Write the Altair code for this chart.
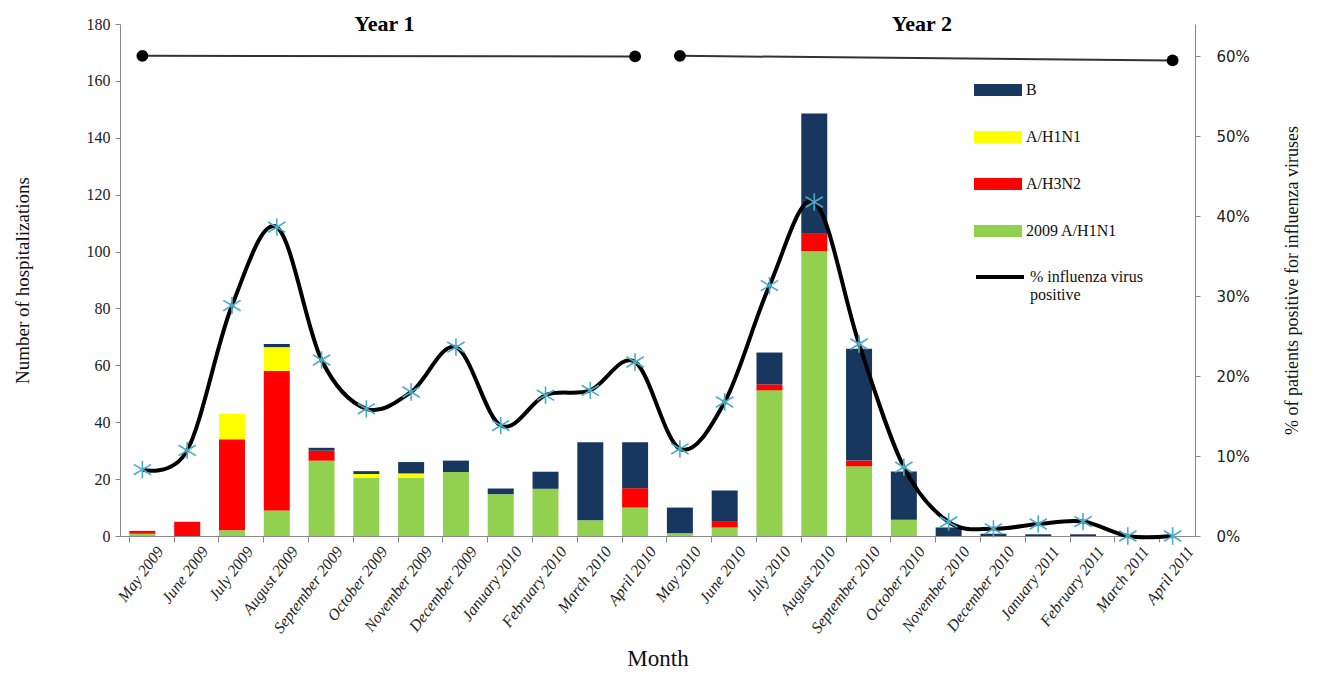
import altair as alt
import pandas as pd

months = ["May 2009", "June 2009", "July 2009", "August 2009", "September 2009",
          "October 2009", "November 2009", "December 2009", "January 2010",
          "February 2010", "March 2010", "April 2010", "May 2010", "June 2010",
          "July 2010", "August 2010", "September 2010", "October 2010",
          "November 2010", "December 2010", "January 2011", "February 2011",
          "March 2011", "April 2011"]

h1n1_2009 = [0.8, 0, 2, 9, 26.5, 20.5, 20.5, 22.5, 14.7, 16.6, 5.5, 10,
             1, 3, 51.2, 100.2, 24.5, 5.7, 0, 0, 0, 0, 0, 0]
h3n2 = [1.0, 5, 32, 49, 3.5, 0, 0, 0, 0, 0, 0, 6.8,
        0, 2, 2.1, 6.1, 2, 0, 0, 0, 0, 0, 0, 0]
h1n1 = [0, 0, 9, 8.4, 0, 1.3, 1.5, 0, 0, 0, 0, 0,
        0, 0, 0, 0, 0, 0, 0, 0, 0, 0, 0, 0]
flu_b = [0, 0, 0, 1.1, 1, 1, 4, 4, 2, 6, 27.5, 16.2,
         9, 11, 11.2, 42.2, 39.3, 17, 3, 0.8, 0.6, 0.6, 0, 0]

pct_positive = [0.083, 0.107, 0.288, 0.386, 0.220, 0.159, 0.180, 0.236, 0.138,
                0.176, 0.182, 0.2175, 0.109, 0.1675, 0.313, 0.4175, 0.240, 0.086,
                0.0175, 0.009, 0.015, 0.018, 0.0, 0.0]

series_names = ["B", "A/H1N1", "A/H3N2", "2009 A/H1N1"]
series_colors = ["#17375E", "#FFFF00", "#FF0000", "#92D050"]
line_name = "% influenza virus positive"

year_labels = ["Year 1", "Year 2"]
year_label_month = ["October 2009", "October 2010"]
year_start = ["May 2009", "May 2010"]
year_end = ["April 2010", "April 2011"]
year_y_start = [168.8, 168.8]
year_y_end = [168.6, 167.2]

rows = []
for i, m in enumerate(months):
    for order, (name, vals) in enumerate([("2009 A/H1N1", h1n1_2009), ("A/H3N2", h3n2),
                                          ("A/H1N1", h1n1), ("B", flu_b)]):
        rows.append({"month": m, "series": name, "value": vals[i], "order": order})
bars_df = pd.DataFrame(rows)

line_df = pd.DataFrame({"month": months, "pct": pct_positive, "lname": line_name})

years_df = pd.DataFrame({"start": year_start, "end": year_end,
                         "y1": year_y_start, "y2": year_y_end})
dots_df = pd.DataFrame({"month": year_start + year_end,
                        "y": year_y_start + year_y_end})
text_df = pd.DataFrame({"month": year_label_month, "label": year_labels, "y": [180, 180]})

SERIF = "Liberation Serif"
ASTERISK = "M-1,-0.6L1,0.6M-1,0.6L1,-0.6M0,-1L0,1"

xscale = alt.Scale(domain=months, paddingInner=0.42, paddingOuter=0.21)
x_enc = alt.X("month:N", sort=months, scale=xscale,
              axis=alt.Axis(title="Month", labelAngle=307, labelFont=SERIF,
                            labelFontStyle="italic", labelFontSize=16,
                            labelAlign="right", labelBaseline="middle",
                            titleFont=SERIF, titleFontSize=23, titleFontWeight="normal",
                            titlePadding=12, bandPosition=0, labelOffset=18,
                            tickSize=6, labelPadding=6))

yleft = alt.Scale(domain=[0, 180], nice=False)

bars = alt.Chart(bars_df).mark_bar().encode(
    x=x_enc,
    y=alt.Y("value:Q", stack="zero", scale=yleft,
            axis=alt.Axis(title="Number of hospitalizations", values=list(range(0, 181, 20)),
                          labelFont=SERIF, labelFontSize=16, titleFont=SERIF,
                          titleFontSize=19, titleFontWeight="normal", titlePadding=54,
                          tickSize=5, labelPadding=5)),
    color=alt.Color("series:N",
                    scale=alt.Scale(domain=series_names, range=series_colors),
                    legend=alt.Legend(title=None, orient="none", legendX=854, legendY=42,
                                      symbolType="M-1,-0.25H1V0.25H-1Z", symbolSize=2304,
                                      symbolStrokeWidth=0, labelFont=SERIF,
                                      labelFontSize=16, labelColor="#111",
                                      rowPadding=15, labelOffset=4)),
    order=alt.Order("order:Q"),
)

year_rules = alt.Chart(years_df).mark_rule(color="#333", strokeWidth=2).encode(
    x=alt.X("start:N", sort=months, scale=xscale),
    x2="end:N",
    y=alt.Y("y1:Q", scale=yleft),
    y2="y2:Q",
)

year_dots = alt.Chart(dots_df).mark_point(filled=True, color="black", size=140,
                                          opacity=1).encode(
    x=alt.X("month:N", sort=months, scale=xscale),
    y=alt.Y("y:Q", scale=yleft),
)

year_text = alt.Chart(text_df).mark_text(font=SERIF, fontSize=22, fontWeight="bold",
                                         dx=18, baseline="middle", color="black").encode(
    x=alt.X("month:N", sort=months, scale=xscale),
    y=alt.Y("y:Q", scale=yleft),
    text="label:N",
)

left = alt.layer(bars, year_rules, year_dots, year_text)

yright = alt.Scale(domain=[0, 0.64], nice=False)

line = alt.Chart(line_df).mark_line(interpolate="cardinal", strokeWidth=4).encode(
    x=alt.X("month:N", sort=months, scale=xscale),
    y=alt.Y("pct:Q", scale=yright,
            axis=alt.Axis(orient="right", values=[0, 0.1, 0.2, 0.3, 0.4, 0.5, 0.6],
                          format=".0%", title="% of  patients positive for influenza viruses",
                          labelFont="DejaVu Sans", labelFontSize=15, titleFont=SERIF,
                          titleFontSize=18, titleFontWeight="normal", titleAngle=270,
                          titlePadding=52, tickSize=5, labelPadding=16)),
    stroke=alt.Stroke("lname:N", scale=alt.Scale(domain=[line_name], range=["black"]),
                      legend=alt.Legend(title=None, orient="none", legendX=854, legendY=227,
                                        symbolType="stroke", symbolStrokeWidth=4,
                                        symbolSize=2304, labelFont=SERIF, labelFontSize=16,
                                        labelColor="#111", labelOffset=4,
                                        labelExpr="['% influenza virus', 'positive']")),
)

points = alt.Chart(line_df).mark_point(shape=ASTERISK, size=300, filled=False,
                                       strokeWidth=1.6, color="#4BACC6", opacity=1).encode(
    x=alt.X("month:N", sort=months, scale=xscale),
    y=alt.Y("pct:Q", scale=yright),
)

right = alt.layer(line, points)

chart = alt.layer(left, right).resolve_scale(y="independent").properties(
    width=1075, height=512
).configure_axis(
    domainColor="#888", tickColor="#888", labelColor="#222", titleColor="#111", grid=False
).configure_view(stroke=None)

chart.save("out.html", embed_options={"renderer": "svg", "actions": False})
